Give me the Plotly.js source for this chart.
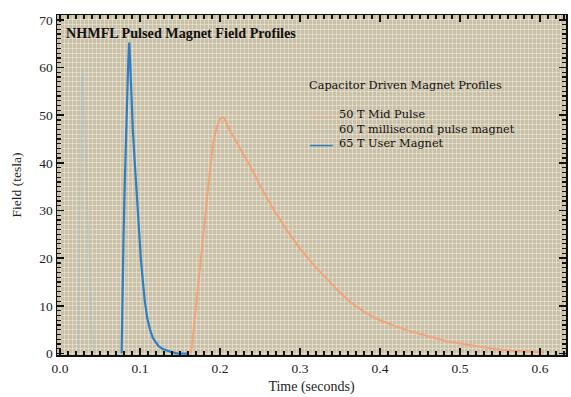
<!DOCTYPE html>
<html><head><meta charset="utf-8">
<script src="https://cdn.plot.ly/plotly-3.0.1.min.js"></script>
<style>html,body{margin:0;padding:0;background:#fff}#chart{width:571px;height:397px}</style>
</head><body><div id="chart"></div>
<script>
// ---- data ----
const seriesNames = ['50 T Mid Pulse', '60 T millisecond pulse magnet', '65 T User Magnet'];
const legendTitle = 'Capacitor Driven Magnet Profiles';
const chartTitle = 'NHMFL Pulsed Magnet Field Profiles';

// 50 T Mid Pulse (orange)
const midTime  = [0.163, 0.1646, 0.170, 0.175, 0.1795, 0.1834, 0.1875, 0.1916, 0.1955, 0.1985, 0.2015, 0.2045, 0.2075, 0.211, 0.2160, 0.2209, 0.2290, 0.2375, 0.2520, 0.2666, 0.2830, 0.300, 0.3170, 0.3334, 0.3480, 0.3625, 0.3790, 0.3959, 0.4209, 0.4416, 0.4620, 0.4834, 0.5000, 0.5166, 0.5416, 0.5650, 0.5850, 0.6050];
const midField = [0, 1.0, 10.0, 18.5, 25.5, 32.4, 38.5, 44.3, 47.2, 48.7, 49.4, 49.5, 48.6, 47.2, 45.8, 44.3, 41.8, 39.4, 34.6, 30.3, 26.0, 22.0, 18.6, 15.7, 13.1, 10.8, 8.9, 7.3, 5.6, 4.5, 3.5, 2.6, 2.1, 1.7, 1.0, 0.6, 0.35, 0.2];

// 60 T millisecond pulse magnet (very faint)
const msTime  = [0.0225, 0.0240, 0.0255, 0.0270, 0.0284, 0.0300, 0.0320, 0.0345, 0.0370, 0.0395, 0.0416, 0.0430];
const msField = [0, 22, 45, 57, 59.6, 52, 40, 27, 15, 6, 0.4, 0];

// 65 T User Magnet (blue)
const userTime  = [0.0770, 0.0775, 0.0784, 0.0795, 0.0810, 0.0825, 0.0840, 0.0853, 0.0862, 0.0866, 0.0880, 0.0895, 0.0910, 0.0935, 0.0960, 0.0985, 0.1010, 0.1034, 0.1060, 0.1090, 0.1125, 0.1160, 0.1195, 0.1230, 0.1280, 0.1334, 0.1400, 0.1460, 0.1590];
const userField = [0, 8, 15.7, 25, 36, 47, 55, 61, 64.3, 65.2, 60, 53, 47, 40, 33, 26, 20, 15.5, 11, 7.5, 5.0, 3.3, 2.3, 1.6, 1.0, 0.6, 0.25, 0.05, 0];

const xTickVals = [0, 0.1, 0.2, 0.3, 0.4, 0.5, 0.6];
const xTickText = ['0.0', '0.1', '0.2', '0.3', '0.4', '0.5', '0.6'];
const yTickVals = [0, 10, 20, 30, 40, 50, 60, 70];
const yTickText = ['0', '10', '20', '30', '40', '50', '60', '70'];

// ---- styling ----
const FONT = 'Liberation Serif, Times New Roman, serif';
const LFONT = 'DejaVu Serif, Liberation Serif, serif';
const colors = ['#f2a37a', 'rgba(130,190,210,0.3)', '#2f7ec4'];
const legendLineColors = ['rgba(242,163,122,0.4)', 'rgba(130,190,210,0.2)', '#2f7ec4'];
const XR = [-0.00375, 0.6325];
const YR = [-0.3, 71.0];

const traces = [
  {x: midTime, y: midField, name: seriesNames[0], mode: 'lines', line: {color: colors[0], width: 2}},
  {x: msTime, y: msField, name: seriesNames[1], mode: 'lines', line: {color: colors[1], width: 1.5}},
  {x: userTime, y: userField, name: seriesNames[2], mode: 'lines', line: {color: colors[2], width: 2.2}},
  // helper for graph-paper grid axes
  {x: [], y: [], xaxis: 'x2', yaxis: 'y2', showlegend: false, hoverinfo: 'skip'}
];

// legend drawn as text + sample lines (paper coords)
const legX = 0.493, legTextX = 0.552;
const legY = [0.706, 0.664, 0.622];
const LEGFONT = {family: LFONT, size: 11.3, color: '#111'};
const annotations = [
  {xref: 'paper', yref: 'paper', x: legX, y: 0.794, xanchor: 'left', yanchor: 'middle', text: legendTitle, showarrow: false, borderpad: 0, font: LEGFONT}
];
const shapes = [];
seriesNames.forEach((n, i) => {
  annotations.push({xref: 'paper', yref: 'paper', x: legTextX, y: legY[i], xanchor: 'left', yanchor: 'middle', text: n, showarrow: false, borderpad: 0, font: LEGFONT});
  shapes.push({type: 'line', xref: 'paper', yref: 'paper', x0: legX + 0.004, x1: 0.542, y0: legY[i] - 0.006, y1: legY[i] - 0.006, line: {color: legendLineColors[i], width: 1.5}});
});

const axisCommon = {
  showline: true, linecolor: '#111', linewidth: 1.5, mirror: 'allticks',
  ticks: 'inside', ticklen: 7, tickwidth: 1.5, tickcolor: '#111',
  showgrid: false, zeroline: false,
  tickfont: {family: FONT, size: 13.5, color: '#222'}
};

const layout = {
  width: 571, height: 397,
  margin: {l: 57, r: 5, t: 15, b: 42},
  paper_bgcolor: '#ffffff',
  plot_bgcolor: '#c9c0a8',
  showlegend: false,
  title: {text: chartTitle, xref: 'container', yref: 'container', x: 66 / 571, xanchor: 'left', y: 1 - 33 / 397, yanchor: 'middle',
          font: {family: FONT, size: 14.2, color: '#111', weight: 'bold'}},
  xaxis: Object.assign({}, axisCommon, {
    range: XR, tickvals: xTickVals, ticktext: xTickText,
    minor: {dtick: 0.01, tick0: 0, ticks: 'inside', ticklen: 4, tickwidth: 1.2, tickcolor: '#111'},
    title: {text: 'Time (seconds)', font: {family: FONT, size: 14, color: '#222'}, standoff: 6}
  }),
  yaxis: Object.assign({}, axisCommon, {
    range: YR, tickvals: yTickVals, ticktext: yTickText,
    minor: {dtick: 1, tick0: 0, ticks: 'inside', ticklen: 4, tickwidth: 1.2, tickcolor: '#111'},
    title: {text: 'Field (tesla)', font: {family: FONT, size: 13.5, color: '#222'}, standoff: 14}
  }),
  xaxis2: {overlaying: 'x', range: XR, showgrid: true, dtick: 0.005, tick0: 0, gridcolor: 'rgba(248,244,236,0.45)', gridwidth: 1,
           showticklabels: false, ticks: '', showline: false, zeroline: false},
  yaxis2: {overlaying: 'y', range: YR, showgrid: true, dtick: 1, tick0: 0, gridcolor: 'rgba(248,244,236,0.45)', gridwidth: 1,
           showticklabels: false, ticks: '', showline: false, zeroline: false},
  annotations: annotations,
  shapes: shapes
};

Plotly.newPlot('chart', traces, layout, {staticPlot: true, displayModeBar: false});
</script>
</body></html>
